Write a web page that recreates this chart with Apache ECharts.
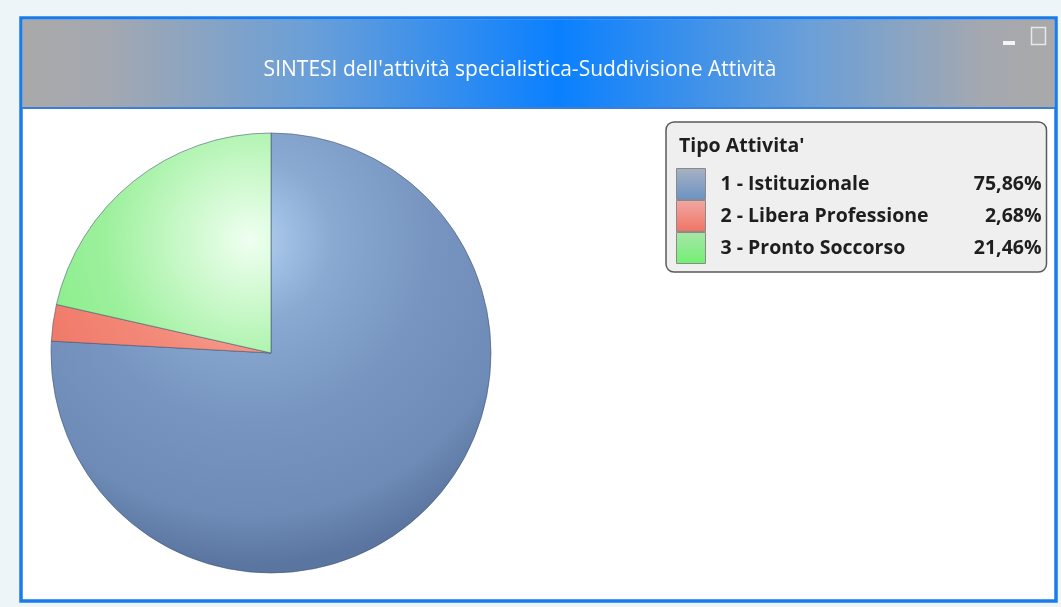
<!DOCTYPE html>
<html>
<head>
<meta charset="utf-8">
<script src="https://cdn.jsdelivr.net/npm/echarts@6/dist/echarts.min.js"></script>
<style>
html,body{margin:0;padding:0;background:#eef5f8;}
#chart{width:1061px;height:607px;}
</style>
</head>
<body>
<div id="chart"></div>
<script>
const chartTitle = "SINTESI dell'attività specialistica-Suddivisione Attività";
const legendTitle = "Tipo Attivita'";
const categories = ["1 - Istituzionale", "2 - Libera Professione", "3 - Pronto Soccorso"];
const values = [75.86, 2.68, 21.46];
const percentLabels = ["75,86%", "2,68%", "21,46%"];

const FONT = "'Open Sans', 'Noto Sans', sans-serif";

function radial(stops) {
  return {type: 'radial', x: 250, y: 240, r: 325, global: true,
    colorStops: stops.map(s => ({offset: s[0], color: s[1]}))};
}
function vlin(a, b) {
  return {type: 'linear', x: 0, y: 0, x2: 0, y2: 1,
    colorStops: [{offset: 0, color: a}, {offset: 1, color: b}]};
}
const sliceColors = [
  radial([[0, '#b2d0f2'], [0.25, '#8aaad2'], [0.55, '#7795c0'], [0.85, '#6d8bb6'], [1, '#5a75a0']]),
  radial([[0, '#ffc0b4'], [0.4, '#f38a7a'], [0.8, '#ef7262'], [1, '#dc5c4c']]),
  radial([[0, '#effff0'], [0.22, '#c8f8c8'], [0.45, '#9cf09c'], [0.75, '#84ee84'], [1, '#6cde6c']])
];
const swatchColors = [
  vlin('#a8b2c2', '#6a92c4'),
  vlin('#f0a8a4', '#f07464'),
  vlin('#a8e6a8', '#72f072')
];

const chart = echarts.init(document.getElementById('chart'));
chart.setOption({
  backgroundColor: '#eef5f8',
  animation: false,
  graphic: [
    {type: 'rect', z: -10, shape: {x: 21, y: 18, width: 1035, height: 583},
      style: {fill: '#ffffff', stroke: '#1a7cec', lineWidth: 3.5}},
    {type: 'rect', z: -9, shape: {x: 22.5, y: 19.5, width: 1032, height: 88},
      style: {fill: {type: 'linear', x: 0, y: 0, x2: 1, y2: 0, colorStops: [
        {offset: 0, color: '#a9a9a9'}, {offset: 0.08, color: '#a4a8b0'}, {offset: 0.28, color: '#6a9fd8'},
        {offset: 0.52, color: '#0a80ff'}, {offset: 0.76, color: '#6a9fd8'},
        {offset: 0.93, color: '#a4a8b0'}, {offset: 1, color: '#a9a9a9'}]}}},
    {type: 'line', z: -8, shape: {x1: 22, y1: 108, x2: 1055, y2: 108},
      style: {stroke: '#3d7fd4', lineWidth: 2}},
    {type: 'rect', z: -7, shape: {x: 1003, y: 41, width: 12, height: 4},
      style: {fill: '#f4f4f4'}},
    {type: 'rect', z: -7, shape: {x: 1031.5, y: 27.5, width: 14, height: 17},
      style: {fill: 'rgba(255,255,255,0.08)', stroke: '#e8e8e8', lineWidth: 1.5}}
  ],
  title: [
    {text: chartTitle, left: 515, top: 55, textAlign: 'center',
      textStyle: {color: '#ffffff', fontFamily: FONT, fontSize: 21, fontWeight: 'normal'}},
    {text: legendTitle, left: 674, top: 131, z: 10,
      textStyle: {color: '#1e1e1e', fontFamily: FONT, fontSize: 19.5, fontWeight: 'bold'}}
  ],
  legend: {
    orient: 'vertical', left: 666, top: 122,
    padding: [46, 5, 8, 10],
    itemWidth: 29, itemHeight: 31, itemGap: 0,
    icon: 'rect', selectedMode: false,
    backgroundColor: '#efefef', borderColor: '#5a5a5a', borderWidth: 1.5, borderRadius: 8,
    data: categories.map((c, i) => ({name: c, itemStyle: {color: swatchColors[i], borderColor: '#8a8a8a', borderWidth: 1}})),
    formatter: name => {
      const i = categories.indexOf(name);
      return '{n|' + name + '}{v|' + percentLabels[i] + '}';
    },
    textStyle: {
      rich: {
        n: {width: 215, padding: [0, 0, 0, 10], fontFamily: FONT, fontSize: 19.5, fontWeight: 'bold', color: '#1e1e1e', lineHeight: 31},
        v: {width: 106, align: 'right', fontFamily: FONT, fontSize: 19.5, fontWeight: 'bold', color: '#1e1e1e', lineHeight: 31}
      }
    }
  },
  series: [{
    type: 'pie',
    center: [271, 353],
    radius: 220,
    startAngle: 90,
    clockwise: true,
    label: {show: false},
    labelLine: {show: false},
    emphasis: {disabled: true},
    itemStyle: {borderColor: 'rgba(60,80,110,0.55)', borderWidth: 1},
    data: categories.map((c, i) => ({name: c, value: values[i], itemStyle: {color: sliceColors[i]}}))
  }]
});
</script>
</body>
</html>
